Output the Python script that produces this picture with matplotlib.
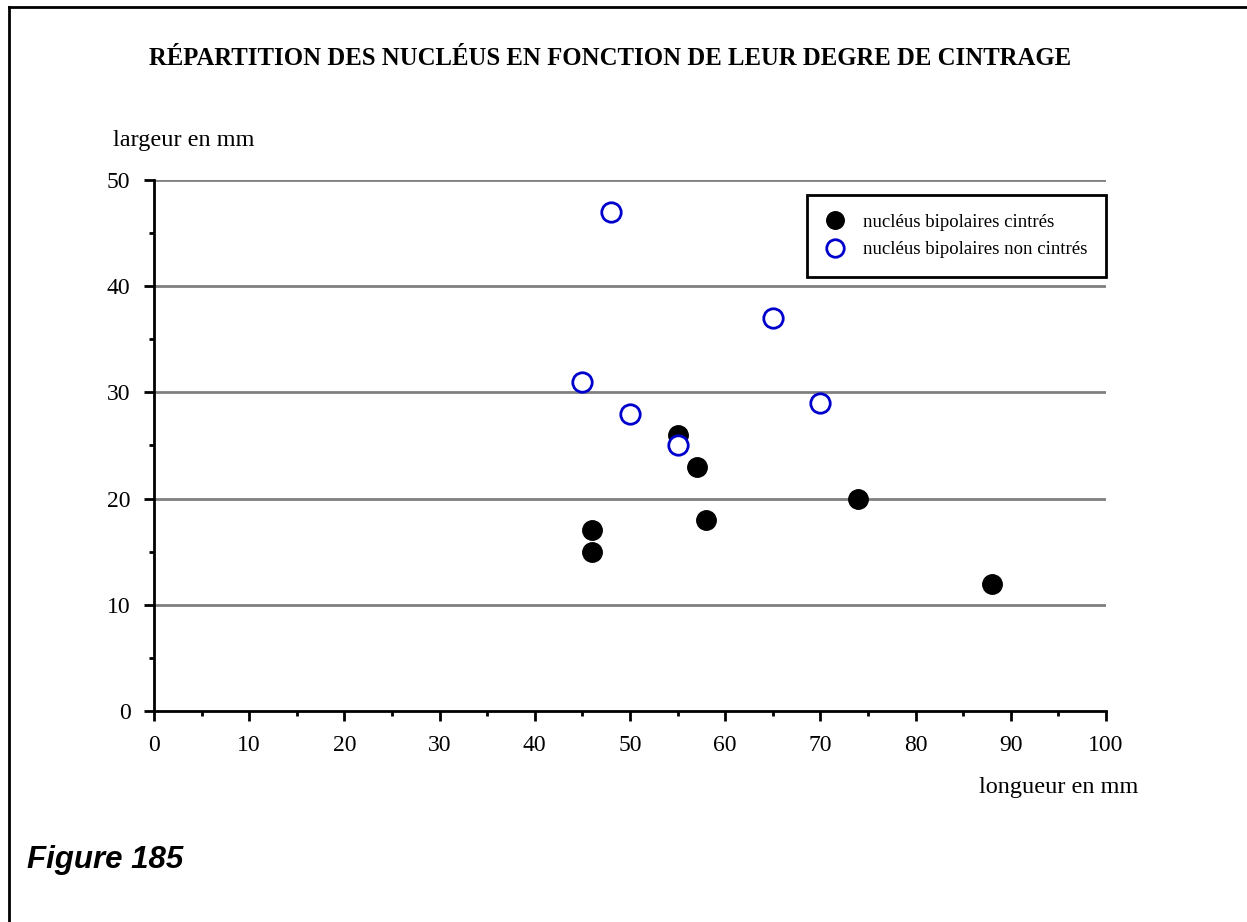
import matplotlib
matplotlib.use('Agg')
import matplotlib.pyplot as plt
from matplotlib.lines import Line2D
from matplotlib.ticker import MultipleLocator

plt.rcParams['font.family'] = ['Liberation Serif', 'DejaVu Serif']

# Nucléus bipolaires cintrés (longueur, largeur en mm)
cintres_x = [55, 57, 46, 46, 58, 74, 88]
cintres_y = [26, 23, 17, 15, 18, 20, 12]

# Nucléus bipolaires non cintrés
non_cintres_x = [48, 45, 50, 55, 65, 70]
non_cintres_y = [47, 31, 28, 25, 37, 29]

x_ticks = [0, 10, 20, 30, 40, 50, 60, 70, 80, 90, 100]
y_ticks = [0, 10, 20, 30, 40, 50]

fig = plt.figure(figsize=(12.47, 9.22), dpi=100)
ax = fig.add_axes([0.1235, 0.2289, 0.7634, 0.5759])

# cadre de la page (haut et gauche)
fig.add_artist(Line2D([0.0075, 1.0], [0.9925, 0.9925], transform=fig.transFigure,
                      color='black', linewidth=2))
fig.add_artist(Line2D([0.0075, 0.0075], [0.0, 0.9925], transform=fig.transFigure,
                      color='black', linewidth=2))

# lignes horizontales
for yv in y_ticks[1:]:
    ax.axhline(yv, color='#808080', linewidth=2, zorder=1)

ax.plot(cintres_x, cintres_y, 'o', markersize=14, color='black',
        label='nucléus bipolaires cintrés', zorder=3)
ax.plot(non_cintres_x, non_cintres_y, 'o', markersize=14, markerfacecolor='white',
        markeredgecolor='#0000cc', markeredgewidth=2,
        label='nucléus bipolaires non cintrés', zorder=4)

ax.set_xlim(0, 100)
ax.set_ylim(0, 50)
ax.set_xticks(x_ticks)
ax.set_yticks(y_ticks)
ax.xaxis.set_minor_locator(MultipleLocator(5))
ax.yaxis.set_minor_locator(MultipleLocator(5))
ax.tick_params(which='major', length=7, width=2, direction='out', labelsize=17, pad=10)
ax.tick_params(which='minor', length=3.5, width=2, direction='out')

for s in ['top', 'right']:
    ax.spines[s].set_visible(False)
for s in ['left', 'bottom']:
    ax.spines[s].set_linewidth(2)
    ax.spines[s].set_zorder(5)

leg = ax.legend(loc='upper right', bbox_to_anchor=(1.0, 0.972), borderaxespad=0,
                prop={'size': 13.5}, fancybox=False, framealpha=1,
                edgecolor='black', handletextpad=1.0, borderpad=1.0,
                labelspacing=0.55, markerscale=0.9, handlelength=1.0)
leg.get_frame().set_linewidth(2)

fig.text(0.489, 0.937, 'RÉPARTITION DES NUCLÉUS EN FONCTION DE LEUR DEGRE DE CINTRAGE',
         ha='center', va='center', fontsize=17.8, fontweight='bold')
fig.text(0.091, 0.848, 'largeur en mm', ha='left', va='center', fontsize=17.5)
fig.text(0.913, 0.146, 'longueur en mm', ha='right', va='center', fontsize=17.5)
fig.text(0.022, 0.067, 'Figure 185', ha='left', va='center', fontsize=22.5,
         fontweight='bold', fontstyle='italic', family='Liberation Sans')

fig.savefig('out.png', dpi=100)
